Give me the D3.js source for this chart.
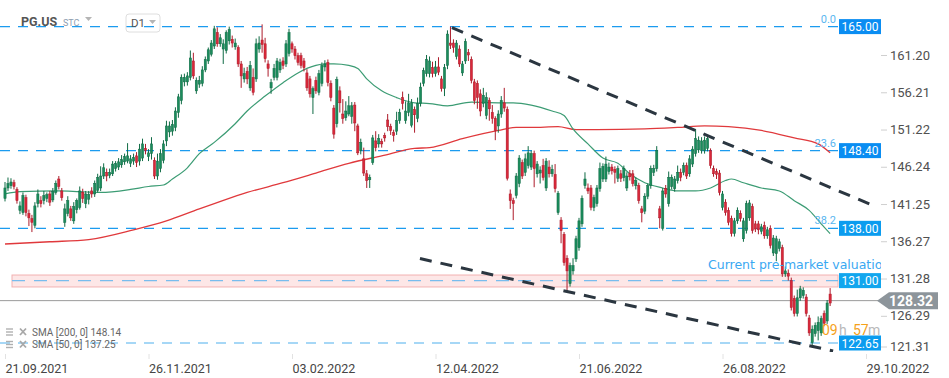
<!doctype html>
<html lang="en">
<head>
<meta charset="UTF-8" />
<title>PG.US D1</title>
<script src="https://d3js.org/d3.v7.min.js"></script>
<style>
    body {
        margin: 0;
        background: #fff;
        font-family: Roboto, 'Open Sans', sans-serif;
    }
</style>
</head>
<body>
<div id="chart-container"></div>
<script>
// daily candles, oldest first (index 0 = 21.09.2021)
var opens = [142.0,143.4,143.7,144.1,143.2,140.4,140.1,142.1,140.0,139.3,
    138.4,141.3,141.7,141.7,142.0,142.6,141.8,142.8,144.6,143.0,
    138.8,140.0,140.6,139.0,140.5,140.8,142.8,141.3,141.9,143.0,
    142.6,143.1,143.4,145.0,145.5,145.1,145.3,146.0,146.2,146.5,
    146.9,147.0,146.7,147.0,147.7,147.0,147.4,148.7,147.6,148.0,
    147.1,145.0,146.0,147.1,149.7,150.9,151.0,151.5,153.5,155.1,
    157.6,157.6,158.2,160.4,156.4,157.3,157.4,159.2,160.4,161.3,
    162.4,164.2,162.7,162.0,161.8,163.1,163.3,162.3,162.2,160.0,
    158.0,159.0,156.8,158.2,158.0,162.0,163.2,162.7,160.0,156.8,
    158.2,158.2,159.2,160.4,160.0,161.4,162.7,162.0,161.1,161.1,
    160.4,158.8,158.0,155.5,157.8,156.2,157.4,159.6,160.2,157.4,
    154.1,152.0,156.4,153.3,152.8,153.3,153.0,154.5,151.7,148.4,
    147.3,145.3,144.5,146.8,149.7,149.3,149.6,150.4,152.5,151.6,
    150.8,151.0,152.4,155.5,152.4,153.5,151.8,153.9,152.7,154.7,
    157.4,158.7,158.7,159.5,158.7,159.6,158.0,156.7,159.8,162.8,
    162.8,161.0,162.0,158.8,160.4,161.5,160.6,157.6,157.4,156.0,
    154.7,153.1,155.1,153.5,152.7,151.7,153.3,154.8,153.9,142.6,
    141.7,142.4,144.0,146.8,145.5,146.4,146.2,148.0,145.3,145.4,
    146.4,143.4,146.2,145.3,145.2,140.1,139.1,137.2,134.0,130.6,
    132.3,133.9,135.4,138.6,143.7,143.4,143.4,140.8,141.3,143.3,
    144.6,144.6,145.6,146.2,145.9,144.7,145.3,144.8,143.4,145.3,
    145.3,143.7,143.7,140.6,140.3,142.3,143.7,145.5,146.0,140.6,
    138.0,143.3,141.3,143.6,143.3,144.4,145.5,145.5,146.4,145.3,
    146.6,148.0,148.5,148.4,148.4,148.7,148.4,146.0,145.6,145.4,
    140.8,141.5,140.4,139.3,137.3,139.0,140.0,136.6,137.7,139.4,
    140.9,138.6,138.6,137.6,138.4,137.0,138.0,134.7,134.6,135.3,
    135.4,131.9,132.0,131.0,128.6,126.6,128.7,129.0,128.8,126.0,
    122.7,123.9,124.3,124.0,126.6,125.6,129.2];
var highs = [144.2,144.8,144.7,144.5,143.5,141.6,142.8,142.5,140.5,139.8,
    141.5,143.2,142.3,143.0,142.8,143.0,143.4,144.4,145.0,143.4,
    141.3,142.3,141.0,141.5,142.0,143.6,143.3,143.0,143.0,143.5,
    144.4,145.3,146.3,146.7,146.0,146.0,147.0,147.0,147.4,147.8,
    148.0,149.4,147.8,148.0,148.2,149.3,150.0,149.3,148.6,150.2,
    147.5,148.0,148.6,149.8,152.4,152.3,152.5,154.2,156.0,158.6,
    158.7,158.9,161.8,161.5,158.2,158.4,159.7,161.0,162.2,163.2,
    165.1,164.9,164.0,163.3,164.5,165.0,163.8,163.4,162.5,160.4,
    159.5,159.6,160.4,159.4,163.4,163.7,165.3,163.5,160.5,158.0,
    160.0,160.8,160.7,160.9,163.2,164.7,163.0,162.4,161.5,161.5,
    160.8,159.3,158.4,157.0,158.3,159.2,160.2,160.5,160.6,157.8,
    154.5,158.3,157.0,155.3,155.0,155.7,154.9,154.9,152.0,150.0,
    148.8,145.8,145.2,150.5,151.0,150.6,150.0,150.8,153.3,152.0,
    151.2,153.6,154.0,156.3,155.0,156.0,155.3,154.3,155.5,157.5,
    159.5,161.2,161.0,160.3,160.4,160.9,158.4,160.0,164.5,165.0,
    163.3,163.2,162.5,160.4,163.4,162.0,161.0,158.0,157.8,156.6,
    156.8,156.2,155.5,154.5,153.0,153.8,155.7,156.8,154.3,143.2,
    142.1,145.4,147.8,147.2,148.0,149.0,148.4,148.4,147.0,146.3,
    147.3,147.4,147.1,146.5,146.6,143.0,139.5,137.5,134.4,133.4,
    134.0,137.0,139.4,142.4,145.5,144.0,143.8,142.5,143.8,146.8,
    146.7,147.6,146.8,146.6,146.3,146.4,145.8,146.4,145.5,145.8,
    145.8,144.8,144.1,141.0,142.7,144.0,146.4,146.5,149.0,141.0,
    143.4,143.8,145.6,145.2,145.0,146.4,146.0,146.8,146.8,147.8,
    149.0,151.3,150.3,150.2,150.3,150.5,148.7,146.4,146.0,145.8,
    143.0,141.9,140.8,139.7,139.4,140.8,140.4,139.4,141.7,141.8,
    141.3,139.0,139.0,138.6,138.9,138.2,138.4,137.1,137.0,136.6,
    135.8,132.9,132.5,131.4,129.0,129.8,130.3,130.1,129.2,126.4,
    125.0,125.4,126.2,126.3,127.0,128.4,130.0];
var lows = [141.6,143.0,143.3,143.2,141.3,139.9,139.8,139.6,138.3,137.5,
    138.0,140.8,140.8,141.2,141.5,141.0,141.5,142.5,143.2,141.7,
    138.2,139.6,139.0,138.6,140.0,140.5,141.4,140.7,141.2,142.1,
    142.2,142.8,143.0,144.6,144.3,144.7,145.0,145.6,145.8,146.1,
    146.5,146.7,146.2,146.5,146.2,146.4,147.0,147.9,147.0,147.2,
    144.6,144.5,145.5,146.7,149.0,150.2,150.4,151.0,152.8,154.6,
    157.0,157.1,157.8,158.0,156.0,156.8,157.0,158.9,160.0,161.0,
    162.0,162.3,162.3,160.0,161.4,162.6,162.2,161.9,159.6,156.8,
    157.5,157.3,156.4,155.8,157.6,161.5,161.5,160.2,158.3,156.0,
    157.8,157.8,158.8,159.3,159.6,161.0,161.5,160.6,159.8,159.4,
    159.0,156.4,155.5,153.3,156.0,155.8,157.0,159.0,157.0,155.0,
    150.0,151.5,153.5,152.0,152.4,153.0,152.0,151.0,147.8,147.9,
    145.0,143.4,143.4,146.5,148.3,148.8,148.8,149.6,151.0,150.5,
    149.6,150.5,152.0,153.9,152.0,153.0,151.5,150.8,152.2,154.3,
    157.0,158.3,158.2,158.2,158.3,158.5,156.3,155.7,159.3,162.0,
    161.5,160.6,159.6,158.4,160.0,160.4,157.4,154.6,154.0,153.0,
    154.2,152.6,152.4,152.0,149.8,150.8,152.8,153.6,144.4,140.6,
    139.1,142.0,143.5,144.6,145.0,146.0,145.8,143.5,144.8,144.0,
    144.4,143.0,144.8,144.9,142.8,139.8,136.0,133.0,129.6,130.2,
    131.8,133.5,135.0,138.2,143.3,142.6,140.4,140.3,140.9,142.9,
    144.2,144.2,145.2,145.2,144.0,144.2,144.2,144.3,143.0,144.4,
    143.6,143.2,141.3,138.8,139.9,141.9,143.3,145.0,145.6,138.0,
    137.7,142.1,140.9,143.2,142.9,144.0,144.3,145.1,144.6,144.9,
    146.2,147.6,148.1,148.0,148.0,148.3,146.0,144.9,144.6,142.4,
    140.4,139.7,138.4,136.9,136.9,138.6,138.9,136.2,137.3,139.0,
    137.3,137.5,137.2,137.2,136.6,136.6,135.3,134.3,133.6,134.9,
    131.5,131.5,131.0,127.0,126.2,126.2,128.3,128.6,126.2,123.6,
    122.3,123.5,123.0,123.6,124.9,125.2,127.6];
var closes = [143.4,144.0,144.2,143.6,141.7,141.0,142.4,140.1,139.4,138.8,
    141.0,142.6,141.3,142.4,142.5,141.5,142.9,144.0,143.6,142.1,
    140.6,141.7,139.4,140.9,141.7,143.0,142.0,142.6,142.5,142.6,
    144.0,144.8,145.0,146.1,145.0,145.5,146.6,146.7,146.9,147.2,
    147.6,147.7,147.3,147.5,146.8,148.6,149.3,148.4,148.1,149.3,
    145.0,147.0,148.0,149.3,151.7,151.7,151.9,153.7,155.6,158.2,
    158.2,158.4,160.8,158.4,157.8,157.8,159.2,160.6,161.9,162.8,
    164.7,162.7,163.5,162.7,164.2,164.6,162.8,162.8,160.0,158.4,
    158.7,158.0,159.8,156.2,162.7,162.8,162.6,160.7,159.4,157.5,
    159.4,160.4,160.2,159.8,162.7,164.2,162.0,161.1,160.2,159.8,
    159.5,156.8,156.0,156.7,156.4,158.7,159.8,160.0,157.5,155.5,
    150.6,157.9,154.8,152.7,153.7,154.4,154.4,152.1,148.1,149.5,
    145.4,144.4,144.8,150.1,148.8,150.0,149.3,150.1,151.6,151.1,
    150.4,152.4,153.5,154.7,153.7,154.8,154.8,153.2,154.7,156.9,
    159.1,160.6,160.4,158.7,159.6,158.9,156.7,159.5,164.0,162.5,
    162.2,162.8,160.0,160.0,163.0,161.2,157.8,155.1,155.5,153.7,
    155.8,155.5,154.0,152.7,151.1,153.3,155.1,154.1,144.7,141.7,
    141.3,145.0,147.4,145.0,147.3,148.1,148.0,146.0,146.6,145.8,
    144.8,147.0,145.3,145.9,143.3,142.7,137.7,133.4,132.3,133.0,
    133.0,136.6,139.0,142.0,144.6,143.0,140.8,142.1,143.4,146.0,
    146.3,146.6,146.2,145.7,145.5,146.0,144.7,146.0,145.0,144.9,
    144.0,144.4,141.7,140.1,142.3,143.7,146.0,146.0,148.4,139.4,
    143.0,142.6,144.8,144.8,144.6,145.5,144.8,146.4,145.0,147.3,
    148.6,150.0,149.8,149.7,149.8,150.0,146.4,145.3,145.2,142.8,
    142.6,140.1,138.8,137.3,139.0,140.4,139.3,139.0,141.3,141.4,
    137.7,137.9,137.8,138.2,137.0,137.8,135.7,136.7,136.6,136.2,
    131.9,132.3,131.6,127.4,126.6,128.7,129.9,129.7,126.6,124.0,
    124.5,125.0,125.4,125.9,125.3,128.0,128.0];

// moving averages (candle index, price)
var sma50Idx = [0,5,18,25,32,42,48,53,56,61,65,70,77,81,87,93,98,104,107,110,115,118,121,126,131,137,142,148,156,165,170,176,183,187,190,195,200,205,209,214,220,225,231,236,241,243,247,253,259,264,269,273,276];
var sma50Val = [142.6,142.9,143.0,142.9,142.8,143.2,143.6,143.8,144.6,146.1,148.0,149.5,152.0,153.7,155.7,157.5,158.8,159.8,160.0,160.0,159.8,159.4,158.0,156.4,155.5,154.8,154.7,154.4,154.9,154.8,154.8,154.5,153.7,153.1,151.3,149.3,147.4,146.7,145.3,144.1,143.4,143.0,143.0,143.4,144.4,144.6,144.1,143.4,143.0,141.7,140.4,138.6,137.3];
var sma200Idx = [0,15,28,43,54,65,70,81,93,104,115,126,137,142,153,165,171,176,185,191,198,214,225,234,242,253,264,272,276];
var sma200Val = [135.9,136.2,136.5,137.8,139.0,140.6,141.3,142.8,144.1,145.4,146.7,147.7,148.7,148.8,150.0,151.1,151.5,151.5,151.6,151.2,151.2,151.3,151.5,151.7,151.6,151.1,150.1,149.3,148.1];

// axes
var priceTicks = [161.20, 156.21, 151.22, 146.24, 141.25, 136.27, 131.28, 126.29, 121.31];
var dateIdx = [0, 48, 96, 144, 192, 240, 288];
var dateLabels = ['21.09.2021', '26.11.2021', '03.02.2022', '12.04.2022', '21.06.2022', '26.08.2022', '29.10.2022'];

// drawn levels
var fibLevels = [165.00, 148.40, 138.00, 122.65];
var fibNames = ['0.0', '23.6', '38.2', ''];
var tagValues = [165.00, 148.40, 138.00, 131.00, 122.65];
var tagColors = ['#0a8df2', '#0a8df2', '#0b9cef', '#12a6ee', '#0b9cef'];
var zoneLevel = 131.00;
var zoneBand = [131.75, 130.15];
var lastPrice = 128.32;
var trendUpper = [[149.5, 164.85], [291.3, 140.9]];
var trendLower = [[138.8, 133.95], [277.0, 121.58]];

// countdown pieces
var countParts = ['09', 'h', '57', 'm'];
var countX = [822, 839, 853, 868];
var countColors = ['#f5a11a', '#b9b9b9', '#f5a11a', '#b9b9b9'];

var canvasWidth = 949;
var canvasHeight = 378;
var plotRight = 881;
var levelEnd = 838;

var svg = d3.select('#chart-container')
    .append('svg')
    .attr('width', canvasWidth)
    .attr('height', canvasHeight)
    .style('display', 'block');

var xScale = d3.scaleLinear().domain([0, 288]).range([5, 866]);
var yScale = d3.scaleLinear().domain([122.65, 165]).range([343, 26.6]);

svg.append('clipPath').attr('id', 'plot-clip')
    .append('rect')
    .attr('x', 0).attr('y', 15)
    .attr('width', plotRight).attr('height', 337);

var plot = svg.append('g').attr('clip-path', 'url(#plot-clip)');

// pink zone + its dashed line
plot.append('rect')
    .attr('x', 12)
    .attr('y', yScale(zoneBand[0]))
    .attr('width', levelEnd - 12)
    .attr('height', yScale(zoneBand[1]) - yScale(zoneBand[0]))
    .attr('fill', '#fde7e7')
    .attr('stroke', '#f2b2b2')
    .attr('stroke-width', 1);

plot.append('line')
    .attr('x1', 12).attr('x2', levelEnd)
    .attr('y1', yScale(zoneLevel)).attr('y2', yScale(zoneLevel))
    .attr('stroke', '#78bdee')
    .attr('stroke-width', 1.3)
    .attr('stroke-dasharray', '13,9');

// fibonacci levels
plot.selectAll('.fib')
    .data(fibLevels)
    .enter()
    .append('line')
    .attr('class', 'fib')
    .attr('x1', 0).attr('x2', levelEnd)
    .attr('y1', function (d) { return yScale(d); })
    .attr('y2', function (d) { return yScale(d); })
    .attr('stroke', function (d, i) { return i == 3 ? '#4fb0ee' : '#1b9bef'; })
    .attr('stroke-width', 1.2)
    .attr('stroke-dasharray', '10,8');

// last price line
plot.append('line')
    .attr('x1', 0).attr('x2', plotRight)
    .attr('y1', yScale(lastPrice)).attr('y2', yScale(lastPrice))
    .attr('stroke', '#9b9b9b')
    .attr('stroke-width', 1);

// moving averages
var smaLine = d3.line()
    .x(function (d) { return xScale(d[0]); })
    .y(function (d) { return yScale(d[1]); })
    .curve(d3.curveMonotoneX);

plot.append('path')
    .datum(d3.zip(sma200Idx, sma200Val))
    .attr('d', smaLine)
    .attr('fill', 'none')
    .attr('stroke', '#e0393c')
    .attr('stroke-width', 1.3);

plot.append('path')
    .datum(d3.zip(sma50Idx, sma50Val))
    .attr('d', smaLine)
    .attr('fill', 'none')
    .attr('stroke', '#3c9c74')
    .attr('stroke-width', 1.2);

// candles
var candles = d3.range(closes.length).map(function (i) {
    return { i: i, o: opens[i], h: highs[i], l: lows[i], c: closes[i] };
});
var upFill = '#1b8c5c', upLine = '#0f6b45';
var downFill = '#d9283a', downLine = '#ad1b2a';

var cg = plot.selectAll('.candle')
    .data(candles)
    .enter()
    .append('g')
    .attr('class', 'candle');

cg.append('line')
    .attr('x1', function (d) { return xScale(d.i); })
    .attr('x2', function (d) { return xScale(d.i); })
    .attr('y1', function (d) { return yScale(d.h); })
    .attr('y2', function (d) { return yScale(d.l); })
    .attr('stroke', function (d) { return d.c >= d.o ? upLine : downLine; })
    .attr('stroke-width', 1);

cg.append('rect')
    .attr('x', function (d) { return xScale(d.i) - 1.1; })
    .attr('y', function (d) { return yScale(Math.max(d.o, d.c)); })
    .attr('width', 2.2)
    .attr('height', function (d) { return Math.max(1, Math.abs(yScale(d.o) - yScale(d.c))); })
    .attr('fill', function (d) { return d.c >= d.o ? upFill : downFill; })
    .attr('stroke', function (d) { return d.c >= d.o ? upLine : downLine; })
    .attr('stroke-width', 0.5);

// trend channel
var trendLine = d3.line()
    .x(function (d) { return xScale(d[0]); })
    .y(function (d) { return yScale(d[1]); });

[trendUpper, trendLower].forEach(function (t) {
    plot.append('path')
        .datum(t)
        .attr('d', trendLine)
        .attr('fill', 'none')
        .attr('stroke', '#2b3640')
        .attr('stroke-width', 3)
        .attr('stroke-dasharray', '12,9');
});

// fib level names
plot.selectAll('.fib-name')
    .data(fibLevels)
    .enter()
    .append('text')
    .attr('x', 836)
    .attr('y', function (d) { return yScale(d) - 4; })
    .attr('text-anchor', 'end')
    .attr('font-size', '11px')
    .attr('fill', '#5ab6f0')
    .text(function (d, i) { return fibNames[i]; });

plot.append('text')
    .attr('x', 708)
    .attr('y', 269)
    .attr('font-family', 'DejaVu Sans, sans-serif')
    .attr('font-size', '12.5px')
    .attr('fill', '#3aa8f2')
    .text('Current pre-market valuation');

// countdown
svg.selectAll('.countdown')
    .data(countParts)
    .enter()
    .append('text')
    .attr('class', 'countdown')
    .attr('x', function (d, i) { return countX[i]; })
    .attr('y', 335)
    .attr('font-size', '14px')
    .attr('fill', function (d, i) { return countColors[i]; })
    .text(function (d) { return d; });

// price axis on the right
var yAxis = svg.append('g')
    .attr('transform', 'translate(' + plotRight + ',0)')
    .call(d3.axisRight(yScale).tickValues(priceTicks).tickSize(6).tickPadding(3).tickFormat(d3.format('.2f')));
yAxis.select('.domain').remove();
yAxis.selectAll('line').attr('stroke', '#cfcfcf');
yAxis.selectAll('text')
    .attr('font-family', 'Roboto, sans-serif')
    .attr('font-size', '13px')
    .attr('fill', '#505050');
yAxis.selectAll('.tick')
    .filter(function (d) { return yScale(d) > 348; })
    .attr('transform', 'translate(0,347)');

// level tags
svg.selectAll('.tag')
    .data(tagValues)
    .enter()
    .append('rect')
    .attr('x', 839)
    .attr('y', function (d) { return yScale(d) - 7.5; })
    .attr('width', 42)
    .attr('height', 15)
    .attr('fill', function (d, i) { return tagColors[i]; });

svg.selectAll('.tag-text')
    .data(tagValues)
    .enter()
    .append('text')
    .attr('x', 860)
    .attr('y', function (d) { return yScale(d) + 4.5; })
    .attr('text-anchor', 'middle')
    .attr('font-size', '12px')
    .attr('fill', '#fff')
    .text(function (d) { return d3.format('.2f')(d); });

// last price tag
var ly = yScale(lastPrice);
svg.append('path')
    .attr('d', 'M877,' + ly + 'L889,' + (ly - 8.5) + 'H938V' + (ly + 8.5) + 'H889Z')
    .attr('fill', '#8d959b');
svg.append('text')
    .attr('x', 911)
    .attr('y', ly + 5)
    .attr('text-anchor', 'middle')
    .attr('font-size', '14px')
    .attr('font-weight', 'bold')
    .attr('fill', '#fff')
    .text(d3.format('.2f')(lastPrice));

// date axis
var xAxis = svg.append('g')
    .attr('transform', 'translate(0,354)')
    .call(d3.axisBottom(xScale).tickValues(dateIdx).tickSize(5).tickPadding(5)
        .tickFormat(function (d, i) { return dateLabels[i]; }));
xAxis.select('.domain').remove();
xAxis.selectAll('line').attr('stroke', '#e2e2e2');
xAxis.selectAll('text')
    .attr('text-anchor', 'start')
    .attr('font-family', 'Roboto, sans-serif')
    .attr('font-size', '12.5px')
    .attr('fill', '#454545');

// header
svg.append('text')
    .attr('x', 21).attr('y', 26)
    .attr('font-size', '12.5px')
    .attr('font-weight', 'bold')
    .attr('fill', '#555')
    .text('PG.US');
svg.append('text')
    .attr('x', 63).attr('y', 26)
    .attr('font-size', '9px')
    .attr('fill', '#8d9db0')
    .text('STC');
svg.append('path').attr('d', 'M85,17H92L88.5,21Z').attr('fill', '#b5b5b5');
svg.append('rect')
    .attr('x', 126).attr('y', 14)
    .attr('width', 34).attr('height', 18)
    .attr('rx', 3)
    .attr('fill', 'none')
    .attr('stroke', '#dedede');
svg.append('text')
    .attr('x', 131).attr('y', 27)
    .attr('font-size', '11.5px')
    .attr('fill', '#555')
    .text('D1');
svg.append('path').attr('d', 'M149,20H156L152.5,24Z').attr('fill', '#b5b5b5');

// sma legend
var legendRows = ['SMA [200,  0]  148.14', 'SMA [50,  0]  137.25'];
legendRows.forEach(function (t, i) {
    var ry = 332 + i * 12.5;
    [-3, 0, 3].forEach(function (dy) {
        svg.append('line')
            .attr('x1', 6).attr('x2', 13)
            .attr('y1', ry + dy).attr('y2', ry + dy)
            .attr('stroke', '#b0b0b0').attr('stroke-width', 1.4);
    });
    svg.append('path')
        .attr('d', 'M20,' + (ry - 3.5) + 'L26,' + (ry + 3) + 'M26,' + (ry - 3.5) + 'L20,' + (ry + 3))
        .attr('stroke', '#a8a8a8').attr('stroke-width', 1.8);
    svg.append('text')
        .attr('x', 32).attr('y', ry + 3.5)
        .attr('font-size', '10px')
        .attr('fill', '#666')
        .text(t);
});
</script>
</body>
</html>
